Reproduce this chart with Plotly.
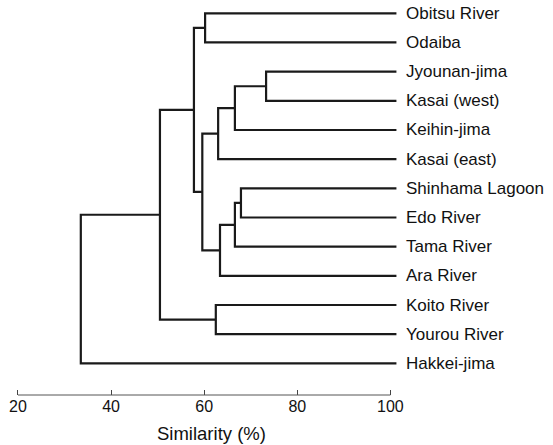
import plotly.graph_objects as go

# ---- data ----
leaf_labels = ["Obitsu River", "Odaiba", "Jyounan-jima", "Kasai (west)", "Keihin-jima",
               "Kasai (east)", "Shinhama Lagoon", "Edo River", "Tama River", "Ara River",
               "Koito River", "Yourou River", "Hakkei-jima"]
# merges: cluster ids 0..12 are leaves, new clusters numbered from 13
merge_left = [0, 2, 14, 15, 6, 17, 18, 16, 13, 10, 21, 23]
merge_right = [1, 3, 4, 5, 7, 8, 9, 19, 20, 11, 22, 12]
merge_similarity = [60.2, 73.3, 66.6, 63.0, 67.9, 66.6, 63.4, 59.6, 57.8, 62.5, 50.5, 33.5]
tick_values = [20, 40, 60, 80, 100]
x_title = "Similarity (%)"

LEAF_END = 101.3
LINE_COLOR = "#1a1a1a"
FONT = "Liberation Sans, Arial, sans-serif"

# ---- build dendrogram segments ----
n = len(leaf_labels)
node_x = {i: LEAF_END for i in range(n)}
node_y = {i: float(i) for i in range(n)}
xs, ys = [], []
for k, (a, b, s) in enumerate(zip(merge_left, merge_right, merge_similarity)):
    xa, ya = node_x[a], node_y[a]
    xb, yb = node_x[b], node_y[b]
    xs += [xa, s, s, xb, None]
    ys += [ya, ya, yb, yb, None]
    nid = n + k
    node_x[nid] = s
    node_y[nid] = (ya + yb) / 2

fig = go.Figure()
fig.add_trace(go.Scatter(x=xs, y=ys, mode="lines",
                         line=dict(color=LINE_COLOR, width=2.2),
                         hoverinfo="skip", showlegend=False))

for i, lab in enumerate(leaf_labels):
    fig.add_annotation(x=LEAF_END, y=i, xref="x", yref="y", text=lab,
                       showarrow=False, xanchor="left", yanchor="middle",
                       xshift=8, font=dict(family=FONT, size=17, color="#111"))

# axis baseline
fig.add_shape(type="line", xref="x", yref="paper", x0=tick_values[0], x1=tick_values[-1],
              y0=0, y1=0, line=dict(color="#555", width=1))

fig.add_annotation(x=49.4, y=-0.097, xref="x", yref="paper", text=x_title,
                   showarrow=False, xanchor="left", yanchor="middle",
                   font=dict(family=FONT, size=18.5, color="#111"))

fig.update_layout(
    width=553, height=445,
    margin=dict(l=4, r=144, t=0, b=50),
    paper_bgcolor="white", plot_bgcolor="white",
    hovermode=False,
    xaxis=dict(range=[17, 104], tickvals=tick_values, ticks="inside", ticklen=5,
               tickcolor="#444", tickwidth=1, showline=False, showgrid=False,
               zeroline=False, tickfont=dict(family=FONT, size=16, color="#111")),
    yaxis=dict(range=[13.085, -0.456], showticklabels=False, showgrid=False,
               zeroline=False, showline=False, ticks=""),
)

fig.write_html("out.html", config={"displayModeBar": False, "staticPlot": True},
               post_script="document.body.style.margin='0';document.body.style.overflow='hidden';")
